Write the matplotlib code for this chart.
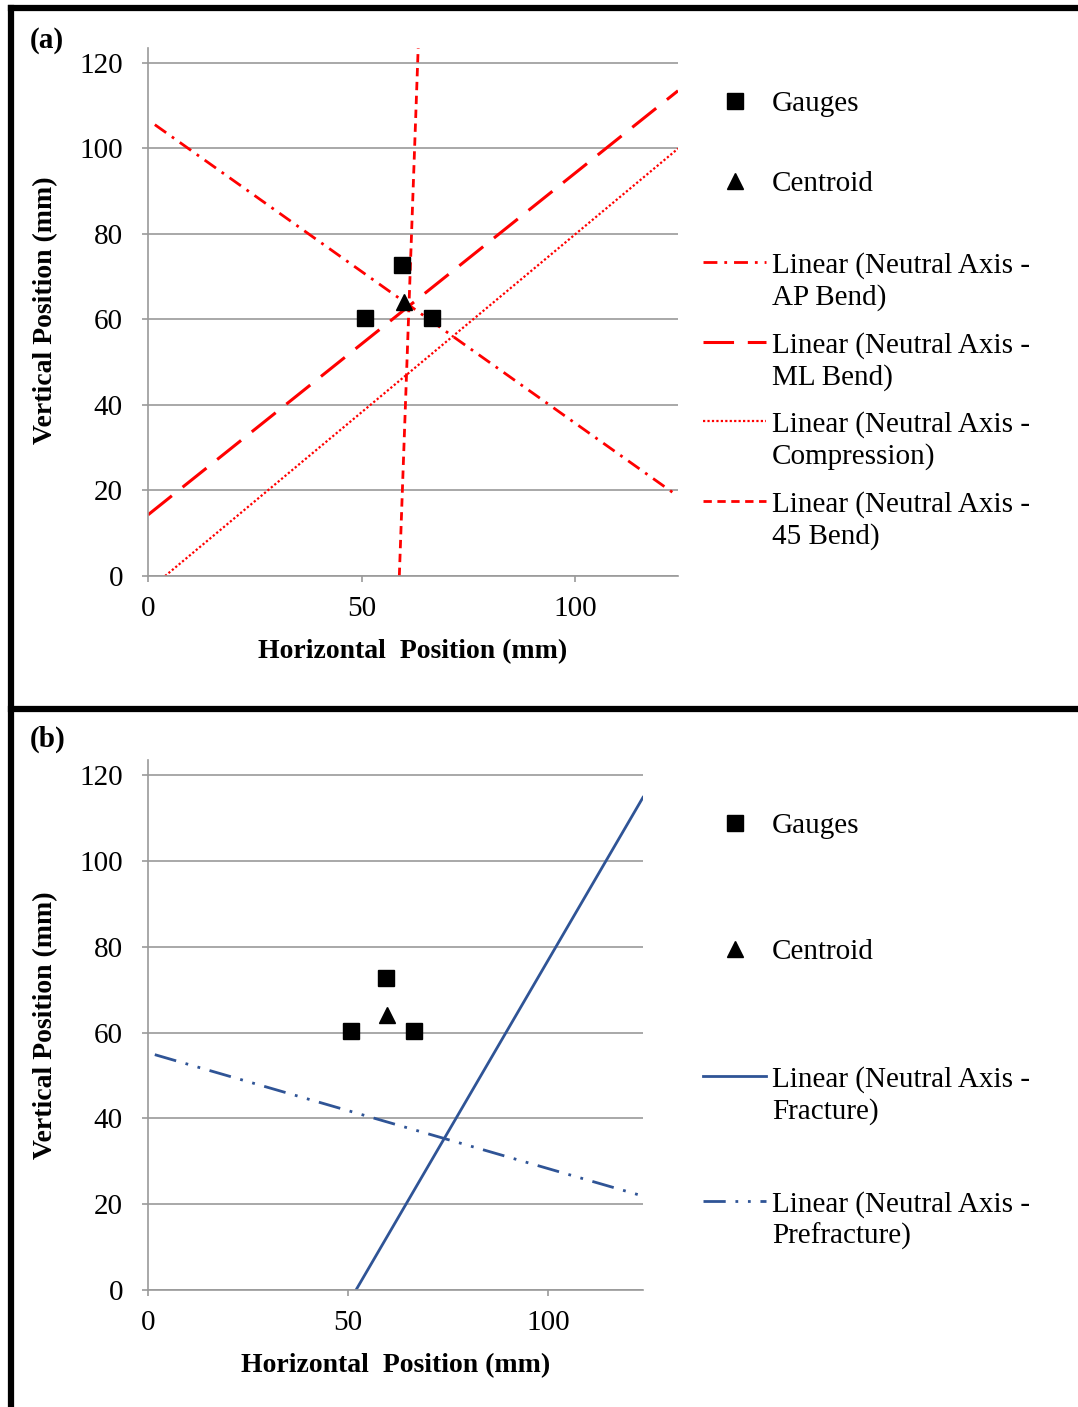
import matplotlib
matplotlib.use("Agg")
import matplotlib.pyplot as plt
import numpy as np
from matplotlib.lines import Line2D

plt.rcParams['font.family'] = ['Liberation Serif', 'DejaVu Serif']

# ---- data ----
gauge_x = [50.7, 59.5, 66.5]
gauge_y = [60.4, 72.8, 60.4]
centroid_x = [59.8]
centroid_y = [64.0]

# neutral-axis trend lines: (slope, intercept, x start) in mm
ap_bend = (-0.71, 106.7, 1.6)
ml_bend = (0.80, 14.3, 0.0)
compression = (0.833, -3.33, 4.0)
bend_45 = (28.0, -1646.4, 58.8)
fracture = (1.60, -83.2, 52.0)
prefracture = (-0.27, 55.3, 1.7)

x_ticks = [0, 50, 100]
y_ticks = [0, 20, 40, 60, 80, 100, 120]
x_lim_a = (0, 124)
x_lim_b = (0, 123.75)
y_lim = (0, 123.5)

legend_a = ["Gauges", "Centroid",
            "Linear (Neutral Axis -\nAP Bend)",
            "Linear (Neutral Axis -\nML Bend)",
            "Linear (Neutral Axis -\nCompression)",
            "Linear (Neutral Axis -\n45 Bend)"]
legend_b = ["Gauges", "Centroid",
            "Linear (Neutral Axis -\nFracture)",
            "Linear (Neutral Axis -\nPrefracture)"]

RED = "#FF0000"
BLUE = "#2F5496"
GRID = "#9A9A9A"
FS = 21
FS_TITLE = 20

W, H = 1078, 1407
fig = plt.figure(figsize=(W / 100, H / 100), dpi=100)


def fx(px):
    return px / W


def fy(py):
    return 1 - py / H


def setup_axes(left, right, bottom, top, xlim, ylab_px):
    ax = fig.add_axes([fx(left), fy(bottom), fx(right) - fx(left),
                       fy(top) - fy(bottom)])
    ax.set_xlim(*xlim)
    ax.set_ylim(*y_lim)
    ax.set_xticks(x_ticks)
    ax.set_yticks(y_ticks)
    for s in ("top", "right"):
        ax.spines[s].set_visible(False)
    for s in ("left", "bottom"):
        ax.spines[s].set_color(GRID)
        ax.spines[s].set_linewidth(1.2)
    ax.grid(axis="y", color=GRID, linewidth=1.2)
    ax.set_axisbelow(True)
    ax.tick_params(axis="y", direction="out", length=4.5, width=1.2,
                   color=GRID, labelsize=FS, pad=13.5)
    ax.tick_params(axis="x", direction="out", length=4.5, width=1.2,
                   color=GRID, labelsize=FS, pad=10)
    ax.set_xlabel("Horizontal  Position (mm)", fontsize=FS_TITLE,
                  fontweight="bold", labelpad=12)
    ax.set_ylabel("Vertical Position (mm)", fontsize=FS_TITLE,
                  fontweight="bold")
    ax.yaxis.set_label_coords((58 - left) / (right - left),
                              (bottom - ylab_px) / (bottom - top))
    return ax


def trend(ax, coef, xlim, **kw):
    m, b, x0 = coef
    xs = np.array([x0, xlim[1]])
    ax.plot(xs, m * xs + b, **kw)


def markers(ax):
    ax.plot(gauge_x, gauge_y, ls="none", marker="s", ms=11.5, color="black",
            zorder=4)
    ax.plot(centroid_x, centroid_y, ls="none", marker="^", ms=11,
            color="black", zorder=4)


# ---------- panel (a) ----------
ax_a = setup_axes(148, 678, 576, 48, x_lim_a, 310)
markers(ax_a)
styles_a = [
    dict(color=RED, lw=2.0, dashes=(5, 2.5, 1, 2.5)),
    dict(color=RED, lw=2.2, dashes=(10, 4.5)),
    dict(color=RED, lw=1.6, dashes=(1, 1)),
    dict(color=RED, lw=2.0, dashes=(3, 2)),
]
for coef, st in zip([ap_bend, ml_bend, compression, bend_45], styles_a):
    trend(ax_a, coef, x_lim_a, **st)
ax_a.set_ylim(*y_lim)
ax_a.set_xlim(*x_lim_a)

# ---------- panel (b) ----------
ax_b = setup_axes(148, 643, 1290, 760, x_lim_b, 1025)
markers(ax_b)
styles_b = [
    dict(color=BLUE, lw=2.0, ls="-"),
    dict(color=BLUE, lw=2.0, dashes=(8, 3.5, 1, 3.5, 1, 3.5)),
]
for coef, st in zip([fracture, prefracture], styles_b):
    trend(ax_b, coef, x_lim_b, **st)
ax_b.set_ylim(*y_lim)
ax_b.set_xlim(*x_lim_b)


# ---------- legends ----------
def legend_entry(y_px, label, marker=None, style=None):
    if marker is not None:
        fig.add_artist(Line2D([fx(735)], [fy(y_px)], marker=marker, ms=11,
                              color="black", ls="none",
                              transform=fig.transFigure))
    else:
        fig.add_artist(Line2D([fx(703), fx(766)], [fy(y_px), fy(y_px)],
                              transform=fig.transFigure, **style))
    for i, line in enumerate(label.split("\n")):
        fig.text(fx(772), fy(y_px + 32 * i), line, fontsize=FS,
                 va="center_baseline", ha="left")


legend_entry(101, legend_a[0], marker="s")
legend_entry(181, legend_a[1], marker="^")
for y, lab, st in zip([262, 342, 421, 501], legend_a[2:], styles_a):
    legend_entry(y, lab, style=st)

legend_entry(823, legend_b[0], marker="s")
legend_entry(949, legend_b[1], marker="^")
for y, lab, st in zip([1076, 1201], legend_b[2:], styles_b):
    legend_entry(y, lab, style=st)

# ---------- panel tags and frame ----------
fig.text(fx(30), fy(37), "(a)", fontsize=FS, fontweight="bold",
         va="center_baseline")
fig.text(fx(30), fy(736), "(b)", fontsize=FS, fontweight="bold",
         va="center_baseline")

frame_kw = dict(color="black", lw=4.5, transform=fig.transFigure,
                solid_capstyle="projecting")
fig.add_artist(Line2D([fx(10.5), 1.0], [fy(7.5), fy(7.5)], **frame_kw))
fig.add_artist(Line2D([fx(10.5), fx(10.5)], [fy(7.5), 0.0], **frame_kw))
fig.add_artist(Line2D([fx(10.5), 1.0], [fy(709), fy(709)], **frame_kw))

fig.savefig("out.png", dpi=100)
